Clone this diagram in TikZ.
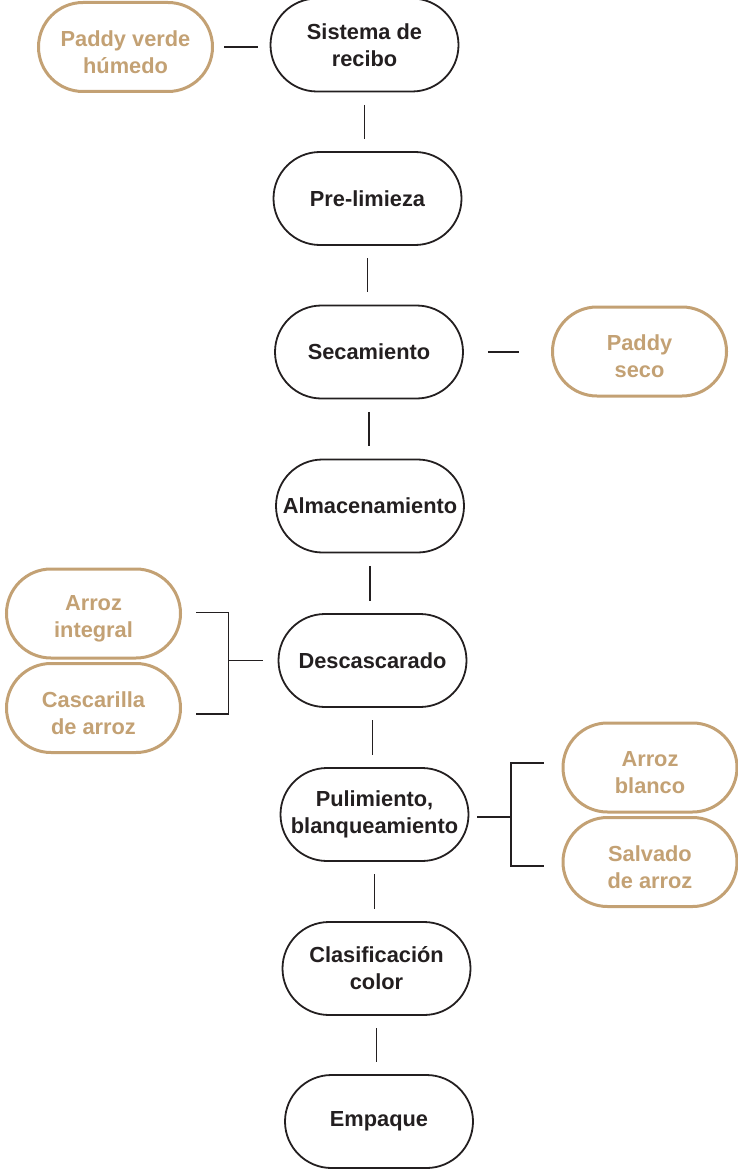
\documentclass[tikz,border=0pt]{standalone}
\usepackage{fontspec}
\setmainfont{Liberation Sans}
\usetikzlibrary{calc}
\definecolor{ink}{HTML}{231F20}
\definecolor{tan}{HTML}{C3A174}
% tall first line, lowers the text inside the product ovals
\newcommand\lowstrut{\rule{0pt}{26pt}}
\begin{document}
\begin{tikzpicture}[x=1pt,y=-1pt,
  every node/.style={font=\fontsize{21.8}{27}\selectfont\bfseries, align=center, inner sep=0pt},
  stage/.style={draw=ink, text=ink, line width=1.8pt, rectangle, rounded corners=46.5pt,
                minimum width=188pt, minimum height=93pt},
  product/.style={draw=tan, text=tan, line width=3pt, rectangle, rounded corners=44.5pt,
                minimum width=174pt, minimum height=89pt},
  link/.style={draw=ink, line width=1.6pt}]
\useasboundingbox (0,0) rectangle (738,1169);

% main process column
\node[stage] (recibo) at (364.5,45)  {Sistema de\\recibo};
\node[stage] (prelim) at (367.5,198.5) {Pre-limieza};
\node[stage] (secam)  at (369,352)   {Secamiento};
\node[stage] (almac)  at (370,506)   {Almacenamiento};
\node[stage] (desc)   at (372.5,660.5) {Descascarado};
\node[stage] (pul)    at (374.5,814.5) {Pulimiento,\\blanqueamiento};
\node[stage] (clasif) at (376.5,968.5) {Clasificación\\color};
\node[stage] (emp)    at (379,1121.5) {Empaque};

% inputs and outputs
\node[product] (humedo)   at (125.5,47)  {\lowstrut Paddy verde\\húmedo};
\node[product] (seco)     at (639.5,351.5) {\lowstrut Paddy\\seco};
\node[product] (integral) at (93.5,613.5) {\lowstrut Arroz\\integral};
\node[product] (cascar)   at (93.5,708)  {\lowstrut Cascarilla\\de arroz};
\node[product] (blanco)   at (650,767.5) {\lowstrut Arroz\\blanco};
\node[product] (salvado)  at (650,862)   {\lowstrut Salvado\\de arroz};

% vertical links between stages
\foreach \a/\b in {recibo/prelim, prelim/secam, secam/almac, almac/desc,
                   desc/pul, pul/clasif, clasif/emp}
  \draw[link, shorten <=12.5pt, shorten >=12.5pt] (\a.south) -- (\a.south |- \b.north);

% side links
\draw[link, shorten <=10pt, shorten >=12pt] (humedo.east) -- (humedo.east -| recibo.west);
\draw[link, shorten <=24pt, shorten >=32pt] (secam.east) -- (secam.east -| seco.west);

% bracket from hulling
\coordinate (bl) at ($(desc.west)+(-49,0)$);
\draw[link] ($(integral.east)+(14,-1)$) -| (bl);
\draw[link] ($(cascar.east)+(14,6)$) -| (bl);
\draw[link] (bl) -- ($(desc.west)+(-15,0)$);

% bracket from polishing
\coordinate (br) at ($(pul.east)+(41.5,2.5)$);
\draw[link] ($(pul.east)+(8,2.5)$) -- (br);
\draw[link] (br) |- ($(blanco.west)+(-18,-4.5)$);
\draw[link] (br) |- ($(salvado.west)+(-18,4)$);
\end{tikzpicture}
\end{document}
